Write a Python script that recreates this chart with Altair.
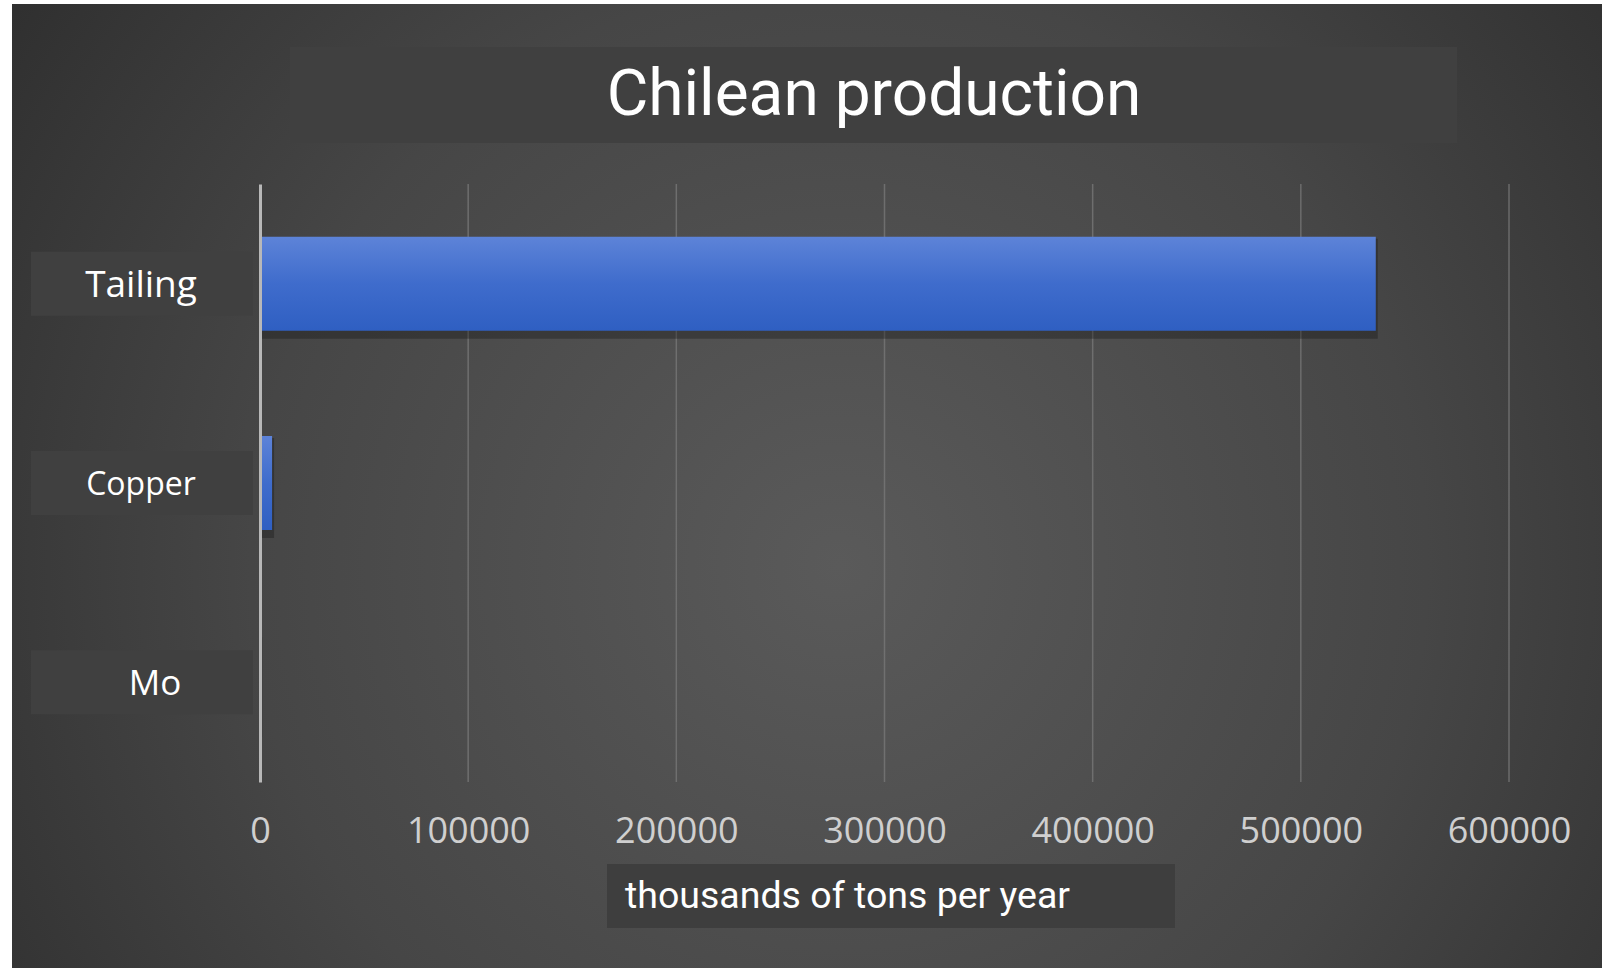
import altair as alt
import pandas as pd

# ---- data ----
categories = ["Tailing", "Copper", "Mo"]
values = [536000, 5800, 60]          # thousands of tons per year
tick_values = [0, 100000, 200000, 300000, 400000, 500000, 600000]
title_text = "Chilean production"
axis_title_text = "thousands of tons per year"

W, H = 1249, 598
PAD_L, PAD_T = 260, 184

df = pd.DataFrame({"category": categories, "value": values})
ticks_df = pd.DataFrame({"tick": tick_values})
one = pd.DataFrame({"k": [0]})

xscale = alt.Scale(domain=[0, 600000], nice=False, zero=True)
yscale = alt.Scale(domain=categories, paddingInner=0, paddingOuter=0)

bg_fill = {
    "gradient": "radial",
    "x1": 0.52, "y1": 0.55, "r1": 0,
    "x2": 0.52, "y2": 0.55, "r2": 0.74,
    "stops": [
        {"offset": 0, "color": "#5a5a5a"},
        {"offset": 0.5, "color": "#464646"},
        {"offset": 1, "color": "#262626"},
    ],
}

background = alt.Chart(one).mark_rect(fill=bg_fill).encode(
    x=alt.value(12 - PAD_L), x2=alt.value(1602 - PAD_L),
    y=alt.value(4 - PAD_T), y2=alt.value(968 - PAD_T),
)

title_box = alt.Chart(one).mark_rect(color="#404040").encode(
    x=alt.value(290 - PAD_L), x2=alt.value(1457 - PAD_L),
    y=alt.value(47 - PAD_T), y2=alt.value(143 - PAD_T),
)
title = alt.Chart(pd.DataFrame({"t": [title_text]})).mark_text(
    font="Roboto", fontSize=64, color="#ffffff", align="center", baseline="middle"
).encode(x=alt.value(874 - PAD_L), y=alt.value(96 - PAD_T), text="t:N")

xtitle_box = alt.Chart(one).mark_rect(color="#3e3e3e").encode(
    x=alt.value(607 - PAD_L), x2=alt.value(1175 - PAD_L),
    y=alt.value(864 - PAD_T), y2=alt.value(928 - PAD_T),
)
xtitle = alt.Chart(pd.DataFrame({"t": [axis_title_text]})).mark_text(
    font="Roboto", fontSize=37.5, color="#ffffff", align="left", baseline="middle"
).encode(x=alt.value(625 - PAD_L), y=alt.value(897 - PAD_T), text="t:N")

grid = alt.Chart(ticks_df).transform_filter("datum.tick > 0").mark_rule(
    color="#7a7a7a", strokeWidth=1.5, opacity=0.75
).encode(x=alt.X("tick:Q", scale=xscale))

label_boxes = alt.Chart(df).mark_bar(size=64, color="#404040").encode(
    y=alt.Y("category:N", scale=yscale, sort=categories),
    x=alt.value(31 - PAD_L), x2=alt.value(253 - PAD_L),
)

label_style = {"Tailing": (37, 141), "Copper": (32, 141), "Mo": (35, 155)}
label_layers = []
for cat in categories:
    fs, cx = label_style[cat]
    label_layers.append(
        alt.Chart(df).transform_filter(alt.datum.category == cat).mark_text(
            font="Open Sans", fontSize=fs, color="#ffffff",
            align="center", baseline="middle", dy=2,
        ).encode(
            y=alt.Y("category:N", scale=yscale, sort=categories),
            x=alt.value(cx - PAD_L),
            text="category:N",
        )
    )

shadow = alt.Chart(df).mark_bar(size=100, color="#151515", opacity=0.35, yOffset=5, xOffset=2).encode(
    y=alt.Y("category:N", scale=yscale, sort=categories),
    x=alt.X("value:Q", scale=xscale),
)

bar_fill = {
    "gradient": "linear", "x1": 0, "y1": 0, "x2": 0, "y2": 1,
    "stops": [
        {"offset": 0, "color": "#5d83d8"},
        {"offset": 0.5, "color": "#3f6ccc"},
        {"offset": 1, "color": "#2f5fc2"},
    ],
}

bars = alt.Chart(df).mark_bar(size=94, fill=bar_fill).encode(
    y=alt.Y("category:N", scale=yscale, sort=categories,
            axis=alt.Axis(labels=False, ticks=False, title=None, grid=False,
                          domain=True, domainColor="#b8b8b8", domainWidth=3, zindex=1)),
    x=alt.X("value:Q", scale=xscale,
            axis=alt.Axis(values=tick_values, format="d", grid=False, domain=False,
                          ticks=False, tickSize=0, title=None, labelFont="Open Sans",
                          labelFontSize=36, labelColor="#cfcfcf", labelBaseline="middle",
                          labelPadding=49, labelFlush=False, labelOverlap=False, zindex=1)),
)

chart = alt.layer(
    background, title_box, title, xtitle_box, xtitle, grid, label_boxes,
    *label_layers, shadow, bars
).properties(
    width=W, height=H,
    autosize=alt.AutoSizeParams(type="none"),
    padding={"left": PAD_L, "top": PAD_T, "right": 1602 - PAD_L - W, "bottom": 968 - PAD_T - H},
    background="#ffffff",
).configure_view(stroke=None)

chart.save("out.html", embed_options={"renderer": "svg", "actions": False})
